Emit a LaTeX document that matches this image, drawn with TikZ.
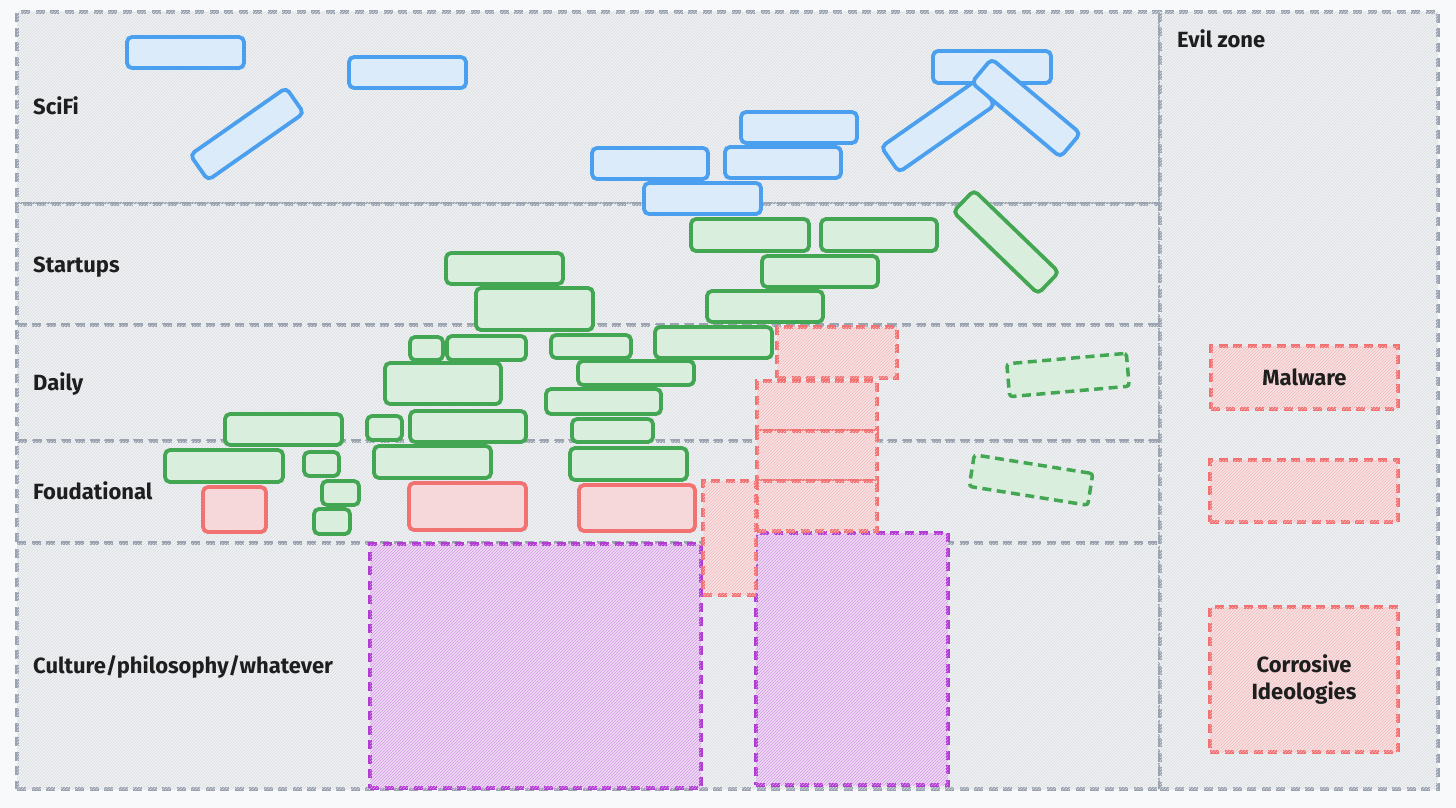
\documentclass[tikz,border=0pt]{standalone}
\usepackage{fontspec}
\setmainfont{Fira Sans}
\usetikzlibrary{patterns}
\definecolor{pagebg}{HTML}{F8F9FB}
\definecolor{zonefill}{HTML}{EFF1F3}
\definecolor{zonedraw}{HTML}{9AA3AF}
\definecolor{zonehatch}{HTML}{D9DDE2}
\definecolor{bstroke}{HTML}{4A9FEE}
\definecolor{bfill}{HTML}{DCEBF9}
\definecolor{gstroke}{HTML}{43A653}
\definecolor{gfill}{HTML}{DAEEDD}
\definecolor{rstroke}{HTML}{F27171}
\definecolor{rfill}{HTML}{F6D7DA}
\definecolor{rdfill}{HTML}{F4E3E4}
\definecolor{rdhatch}{HTML}{F7B9BB}
\definecolor{pstroke}{HTML}{B23BD4}
\definecolor{pfill}{HTML}{ECDCF2}
\definecolor{phatch}{HTML}{D596E8}
\definecolor{ink}{HTML}{1E1E1E}
\tikzset{
  zone/.style={draw=zonedraw, line width=3.4pt, dash pattern=on 9pt off 5.5pt,
    fill=zonefill, postaction={pattern=north east lines, pattern color=zonehatch},
    inner sep=0pt, outer sep=0pt},
  box/.style={rounded corners=5pt, line width=3.8pt, inner sep=0pt, outer sep=0pt},
  blu/.style={box, draw=bstroke, fill=bfill},
  grn/.style={box, draw=gstroke, fill=gfill},
  grnd/.style={draw=gstroke, fill=gfill, line width=3.5pt, rounded corners=3pt,
    dash pattern=on 9pt off 5.5pt, inner sep=0pt, outer sep=0pt},
  red/.style={box, draw=rstroke, fill=rfill},
  redd/.style={draw=rstroke, line width=3.5pt, dash pattern=on 9pt off 5.5pt,
    fill=rdfill, postaction={pattern=north east lines, pattern color=rdhatch},
    inner sep=0pt, outer sep=0pt, text=ink, font=\fontsize{22}{27}\selectfont\bfseries, align=center},
  purp/.style={draw=pstroke, line width=3.5pt, dash pattern=on 9pt off 5.5pt,
    fill=pfill, postaction={pattern=north east lines, pattern color=phatch},
    inner sep=0pt, outer sep=0pt},
  lbl/.style={text=ink, font=\fontsize{22}{26}\selectfont\bfseries, inner sep=0pt, anchor=base west},
}
\begin{document}
\begin{tikzpicture}[x=1pt,y=-1pt]
\fill[pagebg] (0,0) rectangle (1456,808);
\useasboundingbox (0,0) rectangle (1456,808);

% zones
\node[zone, minimum width=1143pt, minimum height=192pt] (zscifi) at (588.5,108) {};
\node[zone, minimum width=1143pt, minimum height=121pt] (zstart) at (588.5,264.5) {};
\node[zone, minimum width=1143pt, minimum height=116pt] (zdaily) at (588.5,383) {};
\node[zone, minimum width=1143pt, minimum height=102pt] (zfound) at (588.5,492) {};
\node[zone, minimum width=1143pt, minimum height=246pt] (zcult) at (588.5,666) {};
\node[zone, minimum width=278pt, minimum height=777pt] (zevil) at (1299,400.5) {};

% labels
\node[lbl] (lscifi) at (33,114) {SciFi};
\node[lbl] (lstart) at (33,272) {Startups};
\node[lbl] (ldaily) at (33,390) {Daily};
\node[lbl] (lfound) at (33,499) {Foudational};
\node[lbl] (lcult) at (33,673) {Culture/philosophy/whatever};
\node[lbl] (levil) at (1177,48) {Evil zone};

% SciFi (blue)
\node[blu, minimum width=117pt, minimum height=31pt] (b1) at (185.5,52.5) {};
\node[blu, minimum width=117pt, minimum height=31pt] (b2) at (407.5,72.5) {};
\node[blu, minimum width=117pt, minimum height=31pt, rotate=35] (b3) at (247,134) {};
\node[blu, minimum width=116pt, minimum height=31pt] (b4) at (799,127.5) {};
\node[blu, minimum width=116pt, minimum height=31pt] (b5) at (650,163.5) {};
\node[blu, minimum width=116pt, minimum height=31pt] (b6) at (783,162.5) {};
\node[blu, minimum width=117pt, minimum height=31pt] (b7) at (702.5,198.5) {};
\node[blu, minimum width=118pt, minimum height=32pt] (b8) at (992,67) {};
\node[blu, minimum width=117pt, minimum height=31pt, rotate=35] (b9) at (938,126) {};
\node[blu, minimum width=116pt, minimum height=31pt, rotate=-40] (b10) at (1026,108) {};

% Startups / Daily / Foundational (green)
\node[grn, minimum width=118pt, minimum height=32pt] (g1) at (750,235) {};
\node[grn, minimum width=116pt, minimum height=32pt] (g2) at (879,235) {};
\node[grn, minimum width=116pt, minimum height=31pt] (g3) at (820,271.5) {};
\node[grn, minimum width=116pt, minimum height=31pt] (g4) at (765,306.5) {};
\node[grn, minimum width=118pt, minimum height=30pt, rotate=-44] (g5) at (1006,242) {};
\node[grn, minimum width=117pt, minimum height=31pt] (g6) at (504.5,268.5) {};
\node[grn, minimum width=117pt, minimum height=42pt] (g7) at (534.5,309) {};
\node[grn, minimum width=33pt, minimum height=23pt] (g8) at (426.5,348.5) {};
\node[grn, minimum width=79pt, minimum height=24pt] (g9) at (486.5,348) {};
\node[grn, minimum width=80pt, minimum height=23pt] (g10) at (591,346.5) {};
\node[grn, minimum width=117pt, minimum height=31pt] (g11) at (713.5,342.5) {};
\node[grn, minimum width=116pt, minimum height=41pt] (g12) at (443,383.5) {};
\node[grn, minimum width=116pt, minimum height=24pt] (g13) at (636,373) {};
\node[grn, minimum width=115pt, minimum height=25pt] (g14) at (603.5,401.5) {};
\node[grn, minimum width=35pt, minimum height=24pt] (g15) at (384.5,428) {};
\node[grn, minimum width=116pt, minimum height=31pt] (g16) at (468,426.5) {};
\node[grn, minimum width=81pt, minimum height=23pt] (g17) at (612.5,430.5) {};
\node[grn, minimum width=117pt, minimum height=31pt] (g18) at (283.5,429.5) {};
\node[grn, minimum width=118pt, minimum height=32pt] (g19) at (224,466) {};
\node[grn, minimum width=35pt, minimum height=24pt] (g20) at (321.5,464) {};
\node[grn, minimum width=117pt, minimum height=32pt] (g21) at (432.5,462) {};
\node[grn, minimum width=117pt, minimum height=32pt] (g22) at (628.5,464) {};
\node[grn, minimum width=37pt, minimum height=24pt] (g23) at (340.5,493) {};
\node[grn, minimum width=36pt, minimum height=25pt] (g24) at (332,521.5) {};
\node[grnd, minimum width=120pt, minimum height=33pt, rotate=5] (gd1) at (1068,375) {};
\node[grnd, minimum width=120pt, minimum height=32pt, rotate=-9] (gd2) at (1031,480) {};

% red solid
\node[red, minimum width=63pt, minimum height=45pt] (r1) at (234.5,509.5) {};
\node[red, minimum width=117pt, minimum height=47pt] (r2) at (467.5,506.5) {};
\node[red, minimum width=116pt, minimum height=46pt] (r3) at (637,508) {};

% purple
\node[purp, minimum width=331pt, minimum height=244pt] (p1) at (535.5,666) {};
\node[purp, minimum width=192pt, minimum height=252pt] (p2) at (852,659) {};

% red dashed
\node[redd, minimum width=120pt, minimum height=51pt] (rd1) at (837,352.5) {};
\node[redd, minimum width=120pt, minimum height=50pt] (rd2) at (817,406) {};
\node[redd, minimum width=120pt, minimum height=50pt] (rd3) at (817,456) {};
\node[redd, minimum width=120pt, minimum height=50pt] (rd4) at (817,506) {};
\node[redd, minimum width=53pt, minimum height=114pt] (rd5) at (729.5,538) {};

% evil zone
\node[redd, minimum width=187pt, minimum height=63pt] (mal) at (1304.5,377.5) {Malware};
\node[redd, minimum width=188pt, minimum height=62pt] (ev2) at (1304,491) {};
\node[redd, minimum width=188pt, minimum height=145pt] (cor) at (1304,679.5) {Corrosive\\Ideologies};
\end{tikzpicture}
\end{document}
